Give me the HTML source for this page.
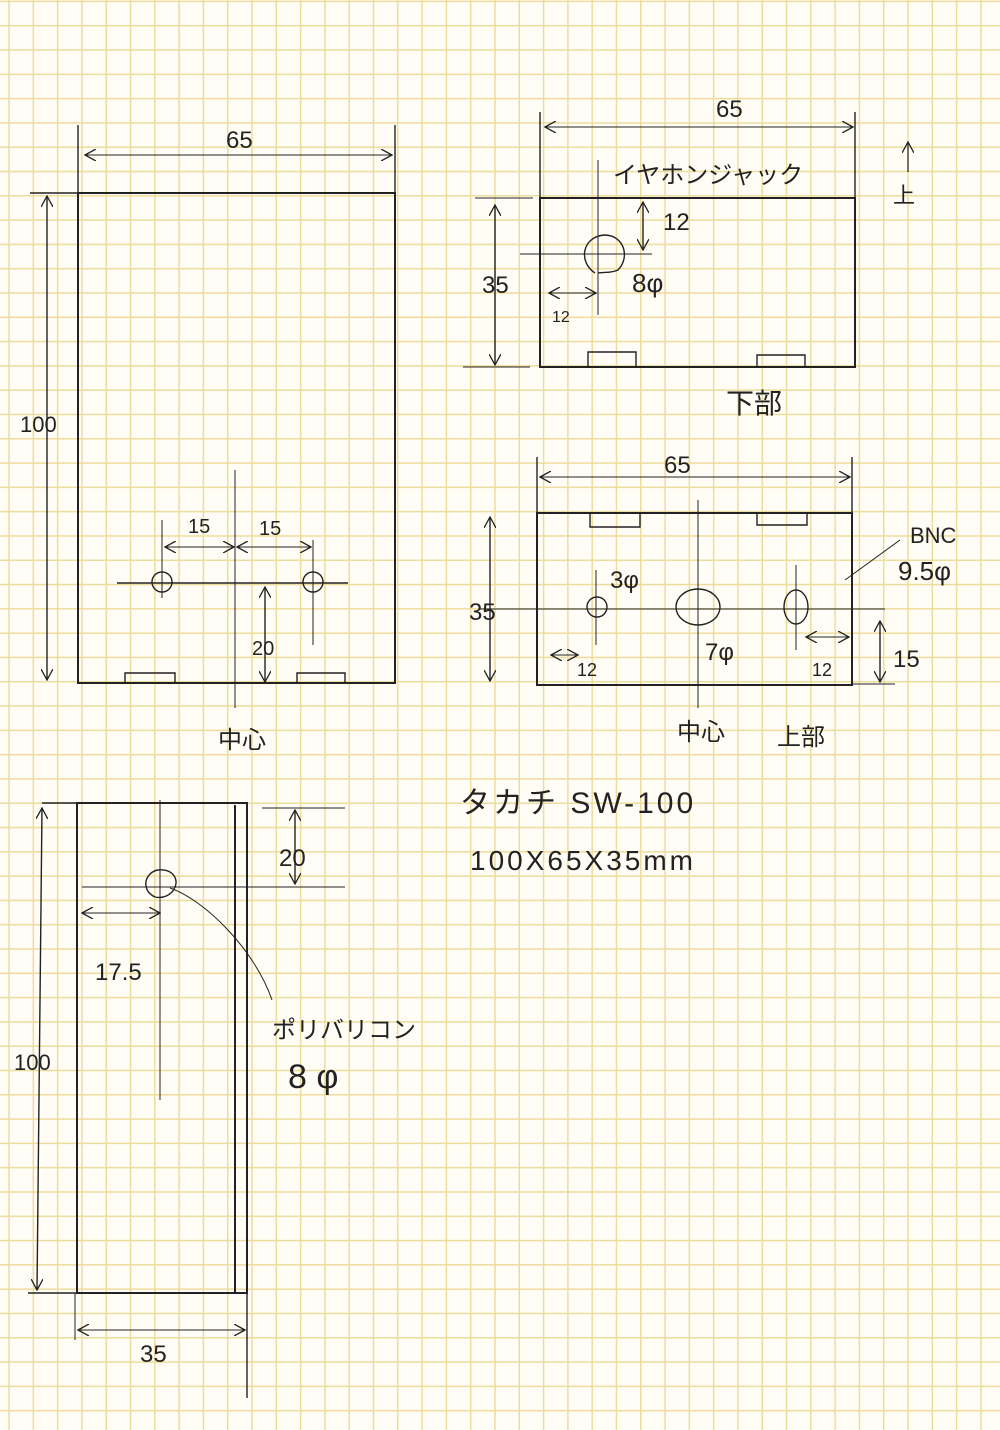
<!DOCTYPE html>
<html><head><meta charset="utf-8"><style>
html,body{margin:0;padding:0}
body{width:1000px;height:1430px;background-color:#fffdf5;
background-image:linear-gradient(90deg,#eedc9c 1.3px,transparent 1.3px),linear-gradient(180deg,#eedc9c 1.3px,transparent 1.3px);
background-size:24.3px 24.3px;background-position:8.3px 0.7px}
svg{display:block}
text{font-family:"Liberation Sans","Noto Sans CJK JP",sans-serif;fill:#222}
</style></head><body>
<svg width="1000" height="1430" viewBox="0 0 1000 1430" xmlns="http://www.w3.org/2000/svg">
<defs>
<marker id="a" viewBox="0 0 12 12" refX="11" refY="6" markerWidth="12" markerHeight="12" markerUnits="userSpaceOnUse" orient="auto-start-reverse">
<path d="M0 0L11 6L0 12" fill="none" stroke="#222" stroke-width="1.3"/>
</marker>
</defs>
<g stroke="#222" fill="none" stroke-width="1.4">
<!-- Panel 1 -->
<rect x="78" y="193" width="317" height="490" stroke-width="2"/>
<line x1="30" y1="193" x2="78" y2="193"/>
<line x1="78" y1="125" x2="78" y2="193"/>
<line x1="395" y1="125" x2="395" y2="193"/>
<line x1="85" y1="155" x2="392" y2="155" marker-start="url(#a)" marker-end="url(#a)" stroke-width="1"/>
<line x1="47" y1="196" x2="47" y2="680" marker-start="url(#a)" marker-end="url(#a)"/>
<line x1="235" y1="470" x2="235" y2="708" stroke-width="1"/>
<line x1="117" y1="583" x2="348" y2="583"/>
<circle cx="162" cy="582" r="10"/>
<circle cx="313" cy="582" r="10"/>
<line x1="162" y1="520" x2="162" y2="598" stroke-width="1"/>
<line x1="313" y1="540" x2="313" y2="645" stroke-width="1"/>
<line x1="165" y1="547" x2="234" y2="547" marker-start="url(#a)" marker-end="url(#a)" stroke-width="1"/>
<line x1="237" y1="547" x2="311" y2="547" marker-start="url(#a)" marker-end="url(#a)" stroke-width="1"/>
<line x1="265" y1="587" x2="265" y2="682" marker-start="url(#a)" marker-end="url(#a)"/>
<path d="M125 683V673H175V683M297 683V673H345V683"/>
<!-- Panel 2 -->
<path d="M540 198H855V367H540Z" stroke-width="2"/>
<line x1="540" y1="112" x2="540" y2="198"/>
<line x1="855" y1="112" x2="855" y2="198"/>
<line x1="545" y1="127" x2="853" y2="127" marker-start="url(#a)" marker-end="url(#a)" stroke-width="1"/>
<line x1="475" y1="198" x2="533" y2="198" stroke-width="1"/>
<line x1="463" y1="367" x2="530" y2="367" stroke-width="1"/>
<line x1="495" y1="205" x2="495" y2="365" marker-start="url(#a)" marker-end="url(#a)"/>
<line x1="598" y1="160" x2="598" y2="315" stroke-width="1"/>
<line x1="520" y1="254" x2="652" y2="254" stroke-width="1"/>
<path d="M595 273C578 262 582 237 604 235C625 235 630 258 618 270C612 273 605 272 598 273"/>
<line x1="643" y1="202" x2="643" y2="250" marker-start="url(#a)" marker-end="url(#a)"/>
<line x1="549" y1="293" x2="596" y2="293" marker-start="url(#a)" marker-end="url(#a)" stroke-width="1"/>
<path d="M588 367V352H636V367M757 367V355H805V367"/>
<line x1="908" y1="142" x2="908" y2="172" marker-start="url(#a)" stroke-width="1.2"/>
<!-- Panel 3 -->
<rect x="537" y="513" width="315" height="172" stroke-width="2"/>
<line x1="537" y1="457" x2="537" y2="513"/>
<line x1="852" y1="457" x2="852" y2="513"/>
<line x1="540" y1="477" x2="850" y2="477" marker-start="url(#a)" marker-end="url(#a)" stroke-width="1"/>
<path d="M590 513V527H640V513M757 513V525H807V513"/>
<line x1="698" y1="500" x2="698" y2="708" stroke-width="1"/>
<line x1="480" y1="609" x2="885" y2="609" stroke-width="1"/>
<circle cx="597" cy="607" r="10"/>
<ellipse cx="698" cy="607" rx="22" ry="18"/>
<ellipse cx="796" cy="607" rx="12" ry="17"/>
<line x1="596" y1="570" x2="596" y2="645" stroke-width="1"/>
<line x1="796" y1="565" x2="796" y2="650" stroke-width="1"/>
<line x1="845" y1="580" x2="900" y2="540" stroke-width="1"/>
<line x1="490" y1="517" x2="490" y2="681" marker-start="url(#a)" marker-end="url(#a)"/>
<line x1="551" y1="655" x2="578" y2="655" marker-start="url(#a)" marker-end="url(#a)" stroke-width="1"/>
<line x1="806" y1="637" x2="849" y2="637" marker-start="url(#a)" marker-end="url(#a)" stroke-width="1"/>
<line x1="880" y1="621" x2="880" y2="682" marker-start="url(#a)" marker-end="url(#a)"/>
<line x1="852" y1="684" x2="895" y2="684" stroke-width="1"/>
<!-- Panel 4 -->
<rect x="77" y="803" width="170" height="490" stroke-width="2"/>
<line x1="235" y1="805" x2="235" y2="1293" stroke-width="2"/>
<line x1="42" y1="803" x2="77" y2="803"/>
<line x1="28" y1="1293" x2="77" y2="1293"/>
<line x1="262" y1="808" x2="345" y2="808" stroke-width="1"/>
<line x1="82" y1="887" x2="345" y2="887" stroke-width="1"/>
<line x1="160" y1="800" x2="160" y2="1100" stroke-width="1"/>
<path d="M155 897C140 890 145 872 158 870C172 868 182 880 172 892C166 898 160 898 155 897Z"/>
<line x1="295" y1="810" x2="295" y2="884" marker-start="url(#a)" marker-end="url(#a)"/>
<line x1="82" y1="913" x2="160" y2="913" marker-start="url(#a)" marker-end="url(#a)" stroke-width="1"/>
<path d="M170 888C205 900 255 950 272 1000" stroke-width="1"/>
<line x1="42" y1="808" x2="37" y2="1290" marker-start="url(#a)" marker-end="url(#a)"/>
<line x1="75" y1="1293" x2="75" y2="1340" stroke-width="1"/>
<line x1="247" y1="1293" x2="247" y2="1398"/>
<line x1="78" y1="1330" x2="245" y2="1330" marker-start="url(#a)" marker-end="url(#a)" stroke-width="1"/>
</g>
<g font-size="24">
<text x="226" y="148">65</text>
<text x="20" y="432" font-size="22">100</text>
<text x="188" y="533" font-size="20">15</text>
<text x="259" y="535" font-size="20">15</text>
<text x="252" y="655" font-size="20">20</text>
<text x="218" y="748">中心</text>
<text x="716" y="117">65</text>
<text x="613" y="183" font-size="24">イヤホンジャック</text>
<text x="663" y="230">12</text>
<text x="632" y="292" font-size="26">8φ</text>
<text x="552" y="322" font-size="16">12</text>
<text x="482" y="293">35</text>
<text x="726" y="413" font-size="28">下部</text>
<text x="893" y="203" font-size="22">上</text>
<text x="664" y="473">65</text>
<text x="610" y="588">3φ</text>
<text x="705" y="660">7φ</text>
<text x="910" y="543" font-size="22">BNC</text>
<text x="898" y="580" font-size="26">9.5φ</text>
<text x="469" y="620">35</text>
<text x="577" y="676" font-size="18">12</text>
<text x="812" y="676" font-size="18">12</text>
<text x="893" y="667">15</text>
<text x="677" y="740">中心</text>
<text x="777" y="745">上部</text>
<text x="279" y="866">20</text>
<text x="95" y="980">17.5</text>
<text x="14" y="1070" font-size="22">100</text>
<text x="272" y="1038">ポリバリコン</text>
<text x="288" y="1088" font-size="34">8 φ</text>
<text x="140" y="1362">35</text>
<text x="460" y="813" font-size="30" letter-spacing="3">タカチ SW-100</text>
<text x="470" y="870" font-size="28" letter-spacing="3">100X65X35mm</text>
</g>
</svg>
</body></html>
